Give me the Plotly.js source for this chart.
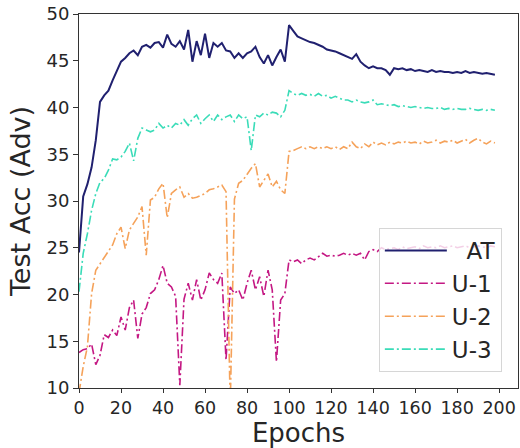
<!DOCTYPE html>
<html>
<head>
<meta charset="utf-8">
<script src="https://cdn.plot.ly/plotly-3.0.1.min.js"></script>
<style>
html,body{margin:0;padding:0;background:#fff;}
#chart{width:520px;height:448px;}
</style>
</head>
<body>
<div id="chart"></div>
<script>
// Epochs sampled every 2 epochs
const epochs = [0,2,4,6,8,10,12,14,16,18,20,22,24,26,28,30,32,34,36,38,40,42,44,46,48,50,52,54,56,58,60,62,64,66,68,70,72,74,76,78,80,82,84,86,88,90,92,94,96,98,100,102,104,106,108,110,112,114,116,118,120,122,124,126,128,130,132,134,136,138,140,142,144,146,148,150,152,154,156,158,160,162,164,166,168,170,172,174,176,178,180,182,184,186,188,190,192,194,196,198];

const accAT = [24.5,30.5,31.8,33.6,36.5,40.6,41.3,41.8,42.9,44.0,
  44.9,45.3,45.8,46.1,45.6,46.5,46.7,46.4,46.9,47.0,
  46.4,47.8,46.8,46.5,47.1,46.2,48.3,44.9,47.1,45.6,
  47.9,45.3,46.9,46.5,46.9,46.1,46.0,45.3,45.8,45.3,
  45.8,46.0,46.5,45.4,44.7,45.6,44.5,45.4,46.2,44.9,
  48.8,48.2,47.6,47.4,47.2,47.0,46.9,46.7,46.5,46.2,
  46.1,46.0,45.8,45.6,45.4,45.2,45.7,44.9,44.5,44.2,
  44.4,44.2,44.2,44.0,43.5,44.2,44.1,44.2,44.0,44.1,
  43.9,44.0,43.9,43.8,44.0,43.8,43.9,43.8,43.8,43.7,
  43.8,43.7,43.9,43.7,43.8,43.7,43.6,43.7,43.6,43.5];

const accU1 = [13.8,14.1,14.2,14.7,12.5,13.5,15.7,15.4,16.2,15.6,
  17.6,16.2,18.6,19.4,15.3,17.9,18.6,20.1,20.5,21.6,
  23.1,21.2,20.8,19.8,10.3,19.5,21.2,19.4,21.6,19.4,
  20.5,22.3,21.6,21.2,22.3,13.0,20.8,20.1,20.5,19.4,
  21.2,22.6,20.5,21.9,19.8,22.6,20.5,12.8,19.4,20.1,
  23.7,23.5,23.7,23.3,23.7,23.9,23.7,24.1,24.4,24.1,
  24.2,24.1,24.2,24.4,24.2,24.4,24.2,24.4,23.7,24.6,
  24.8,24.6,25.0,24.8,24.9,25.0,24.8,25.1,24.9,25.0,
  25.1,24.9,25.2,25.0,25.1,25.0,25.2,25.0,25.1,25.2,
  25.0,25.1,25.2,25.0,25.1,25.2,25.1,25.0,25.2,25.1];

const accU2 = [9.5,12.3,14.4,20.1,22.6,23.3,23.9,24.6,25.3,26.5,
  27.2,24.9,26.9,27.6,28.3,29.4,24.2,30.1,30.4,31.3,
  31.9,28.2,30.8,31.2,31.5,30.4,30.8,30.3,30.4,30.6,
  30.8,31.2,31.3,31.5,31.7,31.0,8.0,30.2,31.9,32.2,
  32.9,33.5,34.0,31.5,32.2,32.9,31.5,32.1,31.2,30.8,
  35.3,35.4,35.6,35.8,35.6,35.8,35.6,35.8,35.6,35.8,
  35.6,35.8,35.5,35.8,35.6,36.3,35.8,35.6,36.1,35.8,
  36.3,36.0,36.2,36.0,36.3,36.1,36.3,36.2,36.4,36.2,
  36.3,36.1,36.4,36.2,36.3,36.5,36.2,36.4,36.3,36.5,
  36.2,36.4,36.6,36.2,36.5,36.7,36.3,36.1,36.4,36.2];

const accU3 = [20.3,24.4,26.5,29.0,30.8,32.0,32.4,33.3,34.5,34.4,
  34.7,35.3,36.2,34.3,36.7,37.8,37.6,37.4,37.6,38.3,
  37.8,38.1,37.8,38.3,38.1,38.7,38.1,38.8,39.2,38.3,
  38.8,39.2,38.5,39.2,38.7,39.0,39.2,38.5,39.2,38.8,
  39.0,35.4,39.2,39.0,39.4,39.2,39.5,39.4,39.0,39.7,
  41.8,41.5,41.3,41.5,41.3,41.4,41.2,41.5,41.2,41.3,
  41.0,41.2,41.0,40.8,40.8,40.6,40.8,40.6,40.5,40.6,
  40.8,40.3,40.4,40.3,40.2,40.3,40.1,40.2,40.1,40.0,
  40.1,40.0,39.9,40.0,39.9,39.9,40.0,39.8,39.9,39.8,
  39.9,39.8,39.8,39.9,39.8,39.7,39.8,39.7,39.8,39.7];

const seriesNames = ['\u00a0\u00a0AT','U-1','U-2','U-3'];
const xTicks = [0,20,40,60,80,100,120,140,160,180,200];
const yTicks = [10,15,20,25,30,35,40,45,50];

const dash = '9px,3px,2px,3px';
const traces = [
  {x: epochs, y: accAT, name: seriesNames[0], mode: 'lines',
   line: {color: '#20206f', width: 2}},
  {x: epochs, y: accU1, name: seriesNames[1], mode: 'lines',
   line: {color: '#c41883', width: 1.6, dash: dash}},
  {x: epochs, y: accU2, name: seriesNames[2], mode: 'lines',
   line: {color: '#f5a25a', width: 1.6, dash: dash}},
  {x: epochs, y: accU3, name: seriesNames[3], mode: 'lines',
   line: {color: '#3adcb8', width: 1.6, dash: dash}}
];

const layout = {
  width: 520, height: 448,
  margin: {l: 79, r: 2, t: 14, b: 60},
  paper_bgcolor: '#fff', plot_bgcolor: '#fff',
  font: {family: 'DejaVu Sans, sans-serif', color: '#262626'},
  showlegend: true,
  legend: {
    x: 0.683, y: 0.428, xanchor: 'left', yanchor: 'top',
    bgcolor: 'rgba(255,255,255,0.8)', bordercolor: '#d6d6d6', borderwidth: 1,
    font: {size: 23, color: '#262626'}, itemwidth: 62, tracegroupgap: 0
  },
  xaxis: {
    range: [0, 209], tickvals: xTicks, ticktext: xTicks.map(String),
    showgrid: false, zeroline: false,
    showline: true, mirror: true, linecolor: '#333', linewidth: 1,
    ticks: 'outside', ticklen: 4, tickcolor: '#333',
    tickfont: {size: 17.5},
    title: {text: 'Epochs', font: {size: 26}, standoff: 8}
  },
  yaxis: {
    range: [10, 50], tickvals: yTicks, ticktext: yTicks.map(String),
    showgrid: false, zeroline: false,
    showline: true, mirror: true, linecolor: '#333', linewidth: 1,
    ticks: 'outside', ticklen: 5, tickcolor: '#333',
    tickfont: {size: 18},
    title: {text: 'Test Acc (Adv)', font: {size: 27}, standoff: 8}
  }
};

Plotly.newPlot('chart', traces, layout, {displayModeBar: false, staticPlot: true});
</script>
</body>
</html>
